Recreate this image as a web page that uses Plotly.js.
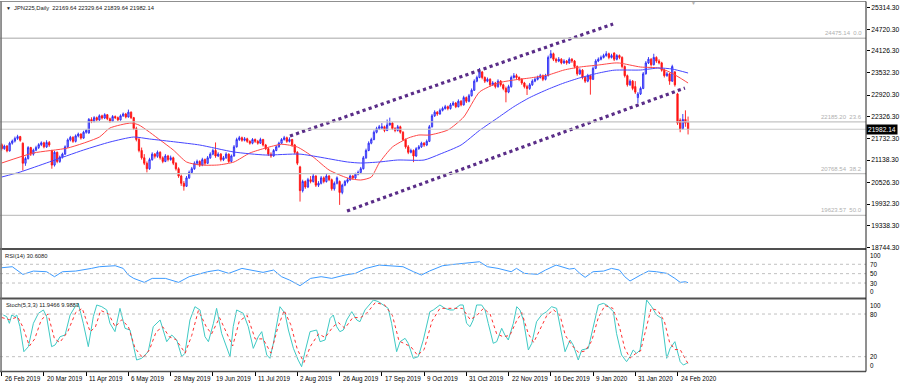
<!DOCTYPE html>
<html><head><meta charset="utf-8">
<script src="https://cdn.plot.ly/plotly-3.0.1.min.js"></script>
<style>html,body{margin:0;padding:0;background:#fff;}#chart{width:900px;height:387px;}</style>
</head><body><div id="chart"></div>
<script>
// ---- DATA ----
const symbolTitle = "JPN225,Daily  22169.64 22329.64 21839.64 21982.14";
const O = [21560,21450,21520,21390,21600,21660,21730,21780,21600,21050,
21180,21480,21300,21410,21480,21560,21610,21500,21620,21400,
21000,21350,21100,21220,21300,21500,21690,21760,21650,21800,
21850,21740,21900,21880,22250,22200,22300,22240,22350,22290,
22380,22270,22200,22330,22300,22240,22350,22400,22320,22450,
22300,22000,21700,21400,21200,21050,20900,21150,21300,21240,
21350,21200,21100,21250,21150,21200,21050,20900,20700,20500,
20420,20650,20800,20900,21050,21100,21000,21150,21050,21200,
21300,21400,21250,21300,21150,21200,21300,21100,21250,21500,
21700,21750,21680,21720,21650,21600,21700,21650,21600,21700,
21550,21450,21300,21250,21400,21500,21600,21700,21750,21650,
21700,21550,21350,20950,20300,20550,20400,20600,20550,20700,
20450,20500,20650,20550,20700,20600,20350,20500,20550,20250,
20450,20550,20600,20700,20650,20750,20800,20900,21200,21400,
21600,21700,21900,22000,22010,22050,21950,22100,22150,22000,
21950,22050,21900,21700,21500,21350,21400,21250,21450,21500,
21600,21550,21650,22050,22350,22450,22400,22500,22550,22600,
22550,22650,22700,22600,22750,22650,22850,22750,22900,23050,
23300,23400,23550,23400,23300,23350,23200,23250,23150,23300,
23200,23100,23000,23150,23400,23450,23400,23350,23250,23150,
23100,23200,23300,23350,23400,23450,23350,23450,23950,24050,
23900,23850,23900,23800,23850,23800,23900,23850,23700,23500,
23600,23400,23300,23450,23350,23650,23850,23900,23950,24000,
24050,23950,24070,23900,24000,23950,23700,23450,23200,23300,
23150,22850,22950,23100,23500,23800,23900,23750,23950,23850,
23800,23600,23450,23500,23300,23550,22950,22230,22000,22250,
22169.64];
const H = [21600,21560,21550,21640,21700,21780,21830,21800,21620,21230,
21520,21500,21450,21530,21600,21650,21640,21680,21660,21420,
21390,21370,21260,21340,21540,21730,21800,21790,21840,21890,
21870,21940,21990,22290,22310,22340,22330,22390,22380,22420,
22400,22300,22370,22360,22330,22390,22440,22430,22520,22470,
22320,22050,21750,21480,21300,21100,21200,21350,21330,21400,
21380,21240,21300,21280,21260,21230,21080,20940,20740,20560,
20700,20850,20950,21100,21150,21130,21200,21180,21250,21350,
21450,21620,21350,21330,21250,21350,21320,21290,21550,21750,
21800,21780,21770,21750,21680,21740,21730,21690,21750,21720,
21580,21480,21350,21440,21540,21640,21740,21800,21780,21760,
21720,21580,21380,20980,20600,20580,20650,20700,20760,20720,
20560,20700,20690,20760,20730,20630,20550,20690,20580,20490,
20590,20650,20740,20730,20790,20850,20950,21250,21450,21650,
21750,21950,22050,22100,22150,22080,22250,22300,22180,22040,
22100,22080,21930,21730,21550,21450,21430,21490,21550,21640,
21630,21700,22100,22400,22500,22480,22550,22600,22650,22630,
22700,22750,22730,22800,22780,22900,22880,22950,23100,23350,
23450,23660,23580,23430,23400,23380,23300,23280,23350,23330,
23230,23150,23200,23450,23520,23500,23430,23380,23280,23200,
23250,23350,23400,23450,23500,23480,23500,24000,24150,24080,
23940,23960,23930,23900,23880,23950,23930,23880,23730,23650,
23630,23430,23500,23480,23700,23900,23950,24000,24050,24120,
24080,24050,24090,24040,24030,23980,23730,23480,23350,23330,
23300,23000,23150,23550,23850,23960,23930,24050,23980,23900,
23830,23640,23550,23530,23750,23580,22980,22280,22400,22500,
22329.64];
const L = [21400,21420,21350,21370,21560,21620,21690,21640,20850,20980,
21150,21250,21260,21380,21440,21520,21460,21470,21500,20900,
20960,21050,21060,21180,21280,21470,21650,21610,21620,21760,
21700,21720,21860,21860,22150,22170,22200,22210,22250,22260,
22230,22160,22180,22260,22200,22220,22320,22280,22300,22260,
21960,21650,21350,21150,21000,20800,20870,21120,21180,21200,
21150,21050,21080,21100,21120,21000,20850,20650,20430,20300,
20400,20620,20760,20870,21000,20950,20970,21000,21030,21170,
21270,21200,21220,21100,21110,21170,21060,21070,21230,21480,
21660,21640,21650,21610,21560,21570,21610,21560,21580,21510,
21410,21250,21200,21230,21380,21480,21580,21670,21610,21620,
21500,21300,21000,20000,20250,20350,20370,20500,20520,20400,
20400,20470,20500,20520,20560,20300,20300,20470,19910,20200,
20420,20500,20570,20600,20620,20720,20770,20880,21170,21380,
21570,21680,21870,21960,21990,21900,21930,22080,21960,21900,
21920,21860,21660,21450,21300,21320,21080,21220,21420,21470,
21500,21520,21630,22030,22320,22350,22380,22470,22520,22500,
22520,22620,22560,22580,22610,22630,22700,22720,22880,23030,
23270,23380,23350,23250,23270,23150,23170,23100,23120,23150,
23050,22720,22970,23120,23370,23350,23300,23200,23100,22920,
23060,23170,23270,23320,23370,23300,23320,23430,23920,23850,
23800,23820,23760,23770,23750,23770,23800,23650,23450,23470,
23350,23250,23270,22930,23330,23630,23820,23870,23920,23970,
23900,23920,23850,23870,23900,23650,23400,23150,23170,23050,
22950,22700,22920,23080,23480,23770,23700,23730,23800,23760,
23560,23400,23420,23200,23280,23150,22100,21900,21970,22050,
21839.64];
const C = [21450,21520,21390,21600,21660,21730,21780,21680,21050,21180,
21480,21300,21410,21480,21560,21610,21500,21620,21550,21000,
21350,21100,21220,21300,21500,21690,21760,21650,21800,21850,
21740,21900,21950,22250,22200,22300,22240,22350,22290,22380,
22270,22200,22330,22300,22240,22350,22400,22320,22450,22300,
22000,21700,21400,21200,21050,20900,21150,21300,21240,21350,
21200,21100,21250,21150,21200,21050,20900,20700,20500,20420,
20650,20800,20900,21050,21100,21000,21150,21050,21200,21300,
21400,21250,21300,21150,21200,21300,21100,21250,21500,21700,
21750,21680,21720,21650,21600,21700,21650,21600,21700,21550,
21450,21300,21250,21400,21500,21600,21700,21750,21650,21700,
21550,21350,21050,20300,20550,20400,20600,20550,20700,20450,
20500,20650,20550,20700,20600,20350,20500,20650,20250,20450,
20550,20600,20700,20650,20750,20800,20900,21200,21400,21600,
21700,21900,22000,22050,22050,21950,22100,22150,22000,21950,
22050,21900,21700,21500,21350,21400,21250,21450,21500,21600,
21550,21650,22050,22350,22450,22400,22500,22550,22600,22550,
22650,22700,22600,22750,22650,22850,22750,22900,23050,23300,
23400,23550,23400,23300,23350,23200,23250,23150,23300,23200,
23100,23000,23150,23400,23450,23400,23350,23250,23150,23100,
23200,23300,23350,23400,23450,23350,23450,23950,24050,23900,
23850,23900,23800,23850,23800,23900,23850,23700,23500,23600,
23400,23300,23450,23350,23650,23850,23900,23950,24000,24050,
23950,24000,23900,24000,23950,23700,23450,23200,23300,23100,
23000,22950,23100,23500,23800,23900,23750,23950,23850,23800,
23600,23450,23500,23300,23700,23200,22150,21980,22250,22150,
21982.14];

// moving averages (bar index, value)
const maFastX = [0,12,25,37,41,49,52,60,65,70,75,82,88,94,100,106,112,118,124,131,136,140,143,148,154,158,162,169,175,181,188,194,200,207,213,219,226,232,234,242,249,253,257,260];
const maFastV = [21057,21331,21468,21769,22016,22153,22098,21687,21413,21085,21003,21003,21085,21331,21468,21570,21495,21221,20865,20646,20591,20673,21057,21495,21742,21824,21824,21961,22317,23002,23249,23331,23386,23468,23605,23687,23742,23797,23797,23687,23660,23550,23386,23249];
const maSlowX = [0,7,18,31,41,50,56,66,75,88,100,113,131,136,143,150,160,166,174,181,188,194,200,207,213,219,226,232,242,249,254,260];
const maSlowV = [20673,20810,21085,21413,21632,21769,21715,21632,21550,21358,21276,21300,21085,21057,21085,21139,21139,21300,21550,21950,22300,22600,22850,23080,23250,23390,23520,23600,23605,23660,23632,23523];

// channel trend lines (bar index, price)
const chanUpX = [109.2, 231.6], chanUpV = [21797, 24865];
const chanLoX = [130.8, 258.8], chanLoV = [19742, 23112];

// fibonacci levels
const fibLevels = [24475.14, 22185.20, 20768.54, 19623.57];
const fibPct = ["0.0", "23.6", "38.2", "50.0"];
const lastPrice = 21982.14;

// price axis labels
const priceTicks = [25314.30,24720.30,24126.30,23532.30,22920.30,22326.30,21732.30,21138.30,20526.30,19932.30,19338.30,18744.30];

// date axis labels
const dateTickIdx = [0,16,32,48,64,80,96,112,128,144,160,176,192,208,224,240,256];
const dateTickText = ["26 Feb 2019","20 Mar 2019","11 Apr 2019","6 May 2019","28 May 2019","19 Jun 2019","11 Jul 2019","2 Aug 2019","26 Aug 2019","17 Sep 2019","9 Oct 2019","31 Oct 2019","22 Nov 2019","16 Dec 2019","9 Jan 2020","31 Jan 2020","24 Feb 2020"];

// RSI(14)
const rsiLabel = "RSI(14) 30.6080";
const rsiX = [0,4,8,12,17,20,23,28,34,37,43,46,48,50,54,57,62,67,71,78,82,86,91,95,99,103,106,109,113,117,121,125,130,134,138,143,147,152,156,159,162,167,171,175,178,181,184,188,193,195,198,203,206,210,215,217,219,221,224,228,231,234,236,238,242,245,248,252,255,257,259,260];
const rsiV = [62.6,64.8,48.4,55.5,54.1,43.5,54.1,55.5,61.2,64.8,66.9,61.2,47,39.9,31.4,39.9,39.9,31.4,43.5,54.1,57.7,50.6,61.2,57.7,52.7,57.7,43.5,36.4,24.3,39.9,43.5,39.9,47,50.6,61.2,68.3,66.9,64.8,54.1,47,55.5,66.9,69.7,71.8,73.9,75.4,64.8,61.2,54.1,61.2,50.6,48.4,57.7,68.3,59.8,61.2,50.6,42.1,54.1,55.5,61.2,57.7,43.5,34.3,47,55.5,54.1,50.6,39.9,31.4,32.8,30.6];
const rsiLevels = [70, 50, 30];

// Stochastic(5,3,3)
const stochLabel = "Stoch(5,3,3) 11.9466 9.9883";
const stochX = [0.6,1.9,2.9,3.8,5,5.7,6.9,8.4,10.1,12,13.9,15.8,17,18.9,20.2,22.1,24,25.9,27.8,29,30.9,32.8,34.7,36,37.9,39.8,41,42.9,44.8,46.7,48.6,51.1,53,55.5,57.4,60,62.5,64.4,66.3,68.2,69.4,71.3,73.2,75.1,77,78.3,80.2,81.4,83.3,85.2,86.5,87.7,89,91.5,93.4,95.3,97.2,98.5,100.4,101.6,102.9,105.4,107.3,108.6,110.5,112.3,113.6,114.9,116.8,119.3,120.6,122.5,124.4,125.6,126.9,128.1,129.4,130.7,132.6,134.5,135.7,137.6,139.5,140.8,142.7,144.5,146.4,147.7,149.6,150.9,152.8,154,155.9,157.8,159.7,162.2,163.5,166,167.9,169.8,171.1,173.6,174.8,176.1,177.4,178.6,179.9,181.8,183.1,184.3,186.2,187.5,189.4,190.6,191.9,193.8,195.1,196.3,197.6,199.5,200.8,202.6,204.5,206.4,208.3,210.2,212.1,213.4,215.3,216.5,218.4,219.7,222.2,224.1,226,227.9,229.2,231.7,232.9,234.8,236.7,238,239.2,240.5,241.8,243,244.3,246.2,248.1,250,251.9,253.2,255,257,258.2,259.5,260];
const stochK = [78.6,76.3,66.9,78.6,76.3,78.6,62.2,27,34.1,66.9,81,85.7,76.3,34.1,36.4,48.1,50.5,78.6,90.3,95,66.9,34.1,76.3,92.7,90.3,85.7,66.9,55.2,88,59.9,57.5,15.3,17.7,27,62.2,71.6,41.1,50.5,43.5,20,24.7,71.6,90.3,85.7,48.1,41.1,66.9,88,52.8,34.1,20,62.2,85.7,81,62.2,31.7,48.1,55.2,22.4,17.7,38.8,90.3,81,57.5,31.7,15.3,5.9,27,55.2,57.5,41.1,43.5,73.9,78.6,62.2,55.2,57.5,71.6,83.3,71.6,69.2,85.7,95,99.7,97.4,92.7,88,66.9,27,41.1,45.8,38.8,17.7,20,43.5,83.3,85.7,92.7,88,85.7,85.7,92.7,92.7,66.9,62.2,71.6,92.7,92.7,85.7,66.9,38.8,41.1,59.9,50.5,43.5,66.9,90.3,85.7,71.6,29.4,38.8,69.2,78.6,83.3,90.3,88,52.8,27,43.5,36.4,15.3,29.4,31.7,62.2,92.7,95,92.7,83.3,52.8,22.4,13,20,29.4,24.7,29.4,59.9,99.7,90.3,78.6,73.9,17.7,31.7,41.1,13,8.3,10.6,11.95];
const stochDX = [0,3,6,8,10.5,12.5,15,17.5,20,22,25,28,30.5,33.5,35.5,37.5,40.5,43,45.5,48,50.5,53.5,56,58.5,61,63.5,66,69.5,72,74.5,77.5,79.5,82.5,85,87.5,90,93,96,99,102,104.5,107,109.5,112,114.5,117,120,122.5,125.5,127.5,130,133,136,138.5,141.5,145,148,150.5,153,155,157.5,160,163,166,169,171.5,174.5,177.5,180,182.5,185,187.5,190,192.5,195,197,199.5,201.5,204,206.5,209,211.5,213.5,216,218.5,221,223.5,226,228.5,231.5,234,236,238,240,242,244,246,248.5,251,253,255,257,258.5,260];
const stochD = [75,72,76,62,35,45,72,80,45,40,55,82,88,55,62,85,80,62,72,62,32,18,30,55,62,48,44,25,50,85,62,52,75,55,35,70,78,45,45,25,60,85,65,30,12,35,52,47,62,68,60,75,75,82,96,93,78,42,38,34,22,30,70,88,88,88,88,72,78,88,80,52,48,50,70,82,52,40,60,78,86,78,50,36,26,28,42,75,92,88,62,32,18,24,28,58,88,85,70,40,30,30,20,9.99];
const stochLevels = [80, 20];

// ---- LAYOUT GEOMETRY (pixels of a 900x387 canvas) ----
const W = 900, HH = 387;
const py = p => 1 - p / HH;
const FONT = "Liberation Sans, Arial, sans-serif";
const idx = C.map((_, i) => i);

const traces = [
  {type:'candlestick', x: idx, open: O, high: H, low: L, close: C, xaxis:'x', yaxis:'y',
   increasing:{line:{color:'#2a2af5', width:0.9}, fillcolor:'#9a9aff'},
   decreasing:{line:{color:'#ff1414', width:0.9}, fillcolor:'#ff1414'},
   whiskerwidth:0, hoverinfo:'skip'},
  {type:'scatter', mode:'lines', x: maFastX, y: maFastV, line:{color:'#ff4646', width:1, shape:'spline', smoothing:0.6}, hoverinfo:'skip'},
  {type:'scatter', mode:'lines', x: maSlowX, y: maSlowV, line:{color:'#4646ff', width:1, shape:'spline', smoothing:0.6}, hoverinfo:'skip'},
  {type:'scatter', mode:'lines', x: chanUpX, y: chanUpV, line:{color:'#5a2d88', width:3.2, dash:'dot'}, hoverinfo:'skip'},
  {type:'scatter', mode:'lines', x: chanLoX, y: chanLoV, line:{color:'#5a2d88', width:3.2, dash:'dot'}, hoverinfo:'skip'},
  {type:'scatter', mode:'lines', x: rsiX, y: rsiV, yaxis:'y2', line:{color:'#3d9bff', width:1}, hoverinfo:'skip'},
  {type:'scatter', mode:'lines', x: stochX, y: stochK, yaxis:'y3', line:{color:'#3fc9c4', width:1}, hoverinfo:'skip'},
  {type:'scatter', mode:'lines', x: stochDX, y: stochD, yaxis:'y3', line:{color:'#ff3030', width:1, dash:'dot'}, hoverinfo:'skip'}
];

const shapes = [];
const annotations = [];
// fib lines and labels
fibLevels.forEach((lv, k) => {
  shapes.push({type:'line', xref:'paper', yref:'y', x0:0, x1:1, y0:lv, y1:lv, line:{color:'#c4c4c4', width:1.3}});
  annotations.push({xref:'paper', yref:'y', x:0.998, y:lv, xanchor:'right', yanchor:'bottom', yshift:0,
    text: lv.toFixed(2) + '\u00a0\u00a0' + fibPct[k], showarrow:false, font:{family:FONT, size:6, color:'#b0b0b0'}});
});
// bid line
shapes.push({type:'line', xref:'paper', yref:'y', x0:0, x1:1, y0:lastPrice, y1:lastPrice, line:{color:'#c8c8c8', width:1}});
// indicator levels
rsiLevels.forEach(lv => shapes.push({type:'line', xref:'paper', yref:'y2', x0:0, x1:1, y0:lv, y1:lv, line:{color:'#c0c0c0', width:1, dash:'dot'}}));
stochLevels.forEach(lv => shapes.push({type:'line', xref:'paper', yref:'y3', x0:0, x1:1, y0:lv, y1:lv, line:{color:'#c0c0c0', width:1, dash:'dot'}}));
// panel frames
shapes.push({type:'line', xref:'paper', yref:'paper', x0:0, x1:1, y0:py(1.5), y1:py(1.5), line:{color:'#909090', width:1}});
shapes.push({type:'line', xref:'paper', yref:'paper', x0:0, x1:1, y0:py(249), y1:py(249), line:{color:'#505050', width:2}});
shapes.push({type:'line', xref:'paper', yref:'paper', x0:0, x1:1, y0:py(298.5), y1:py(298.5), line:{color:'#505050', width:2}});
shapes.push({type:'line', xref:'paper', yref:'paper', x0:0, x1:1, y0:py(371.5), y1:py(371.5), line:{color:'#505050', width:1.5}});
shapes.push({type:'line', xref:'paper', yref:'paper', x0:0.0012, x1:0.0012, y0:py(371.5), y1:py(1.5), line:{color:'#707070', width:1.5}});
shapes.push({type:'line', xref:'paper', yref:'paper', x0:1, x1:1, y0:py(371.5), y1:py(1.5), line:{color:'#202020', width:1}});

// header texts
annotations.push({xref:'paper', yref:'paper', x:0, xshift:4, y:py(8), xanchor:'left', yanchor:'middle', text:'\u25BC', showarrow:false, font:{family:FONT, size:5, color:'#202020'}});
annotations.push({xref:'paper', yref:'paper', x:0, xshift:12, y:py(8), xanchor:'left', yanchor:'middle', text:symbolTitle, showarrow:false, font:{family:FONT, size:5.8, color:'#202020'}});
annotations.push({xref:'paper', yref:'paper', x:0, xshift:3, y:py(256), xanchor:'left', yanchor:'middle', text:rsiLabel, showarrow:false, font:{family:FONT, size:5.8, color:'#202020'}});
annotations.push({xref:'paper', yref:'paper', x:0, xshift:4, y:py(304.5), xanchor:'left', yanchor:'middle', text:stochLabel, showarrow:false, font:{family:FONT, size:5.8, color:'#202020'}});
annotations.push({xref:'x', yref:'paper', x:262, y:py(3), xanchor:'center', yanchor:'middle', text:'\u25BC', showarrow:false, font:{family:FONT, size:5, color:'#b0b0b0'}});
// last price box
annotations.push({xref:'paper', yref:'y', x:1, xshift:0, y:lastPrice, xanchor:'left', yanchor:'middle', text:lastPrice.toFixed(2), showarrow:false, bgcolor:'#000', borderpad:1, font:{family:FONT, size:6.6, color:'#fff'}});
// indicator right labels
[[100,'top'],[70,'middle'],[50,'middle'],[30,'middle'],[0,'bottom']].forEach(([v,a]) =>
  annotations.push({xref:'paper', yref:'y2', x:1, xshift:2, y:v, xanchor:'left', yanchor:a, text:String(v), showarrow:false, font:{family:FONT, size:6.3, color:'#000'}}));
[[100,'top'],[80,'middle'],[20,'middle'],[0,'bottom']].forEach(([v,a]) =>
  annotations.push({xref:'paper', yref:'y3', x:1, xshift:2, y:v, xanchor:'left', yanchor:a, text:String(v), showarrow:false, font:{family:FONT, size:6.3, color:'#000'}}));
// date labels
dateTickIdx.forEach((ix, k) =>
  annotations.push({xref:'x', yref:'paper', x:ix, xshift:1, y:py(378.5), xanchor:'left', yanchor:'middle', text:dateTickText[k], showarrow:false, font:{family:FONT, size:6.3, color:'#000'}}));

const layout = {
  width: W, height: HH, margin:{l:0, r:34, t:0, b:0, pad:0},
  paper_bgcolor:'#fff', plot_bgcolor:'#fff', showlegend:false,
  xaxis:{range:[-0.65, 327.4], anchor:'y3', rangeslider:{visible:false}, showgrid:false, zeroline:false, showline:false,
         tickmode:'array', tickvals: dateTickIdx, ticktext: dateTickIdx.map(()=>''), ticks:'outside', ticklen:4, tickwidth:1, tickcolor:'#000', fixedrange:true},
  yaxis:{domain:[py(249), py(3)], range:[18701, 25441], side:'right', anchor:'x', showgrid:false, zeroline:false, showline:false,
         tickmode:'array', tickvals: priceTicks, ticktext: priceTicks.map(v=>v.toFixed(2)), ticks:'outside', ticklen:3, tickcolor:'#000',
         tickfont:{family:FONT, size:6.7, color:'#000'}, fixedrange:true},
  yaxis2:{domain:[py(297.1), py(250.2)], range:[0,100], anchor:'x', showgrid:false, zeroline:false, showticklabels:false, showline:false, fixedrange:true},
  yaxis3:{domain:[py(370.9), py(299.8)], range:[0,100], anchor:'x', showgrid:false, zeroline:false, showticklabels:false, showline:false, fixedrange:true},
  shapes: shapes, annotations: annotations
};
Plotly.newPlot('chart', traces, layout, {staticPlot:true, displayModeBar:false});
</script></body></html>
